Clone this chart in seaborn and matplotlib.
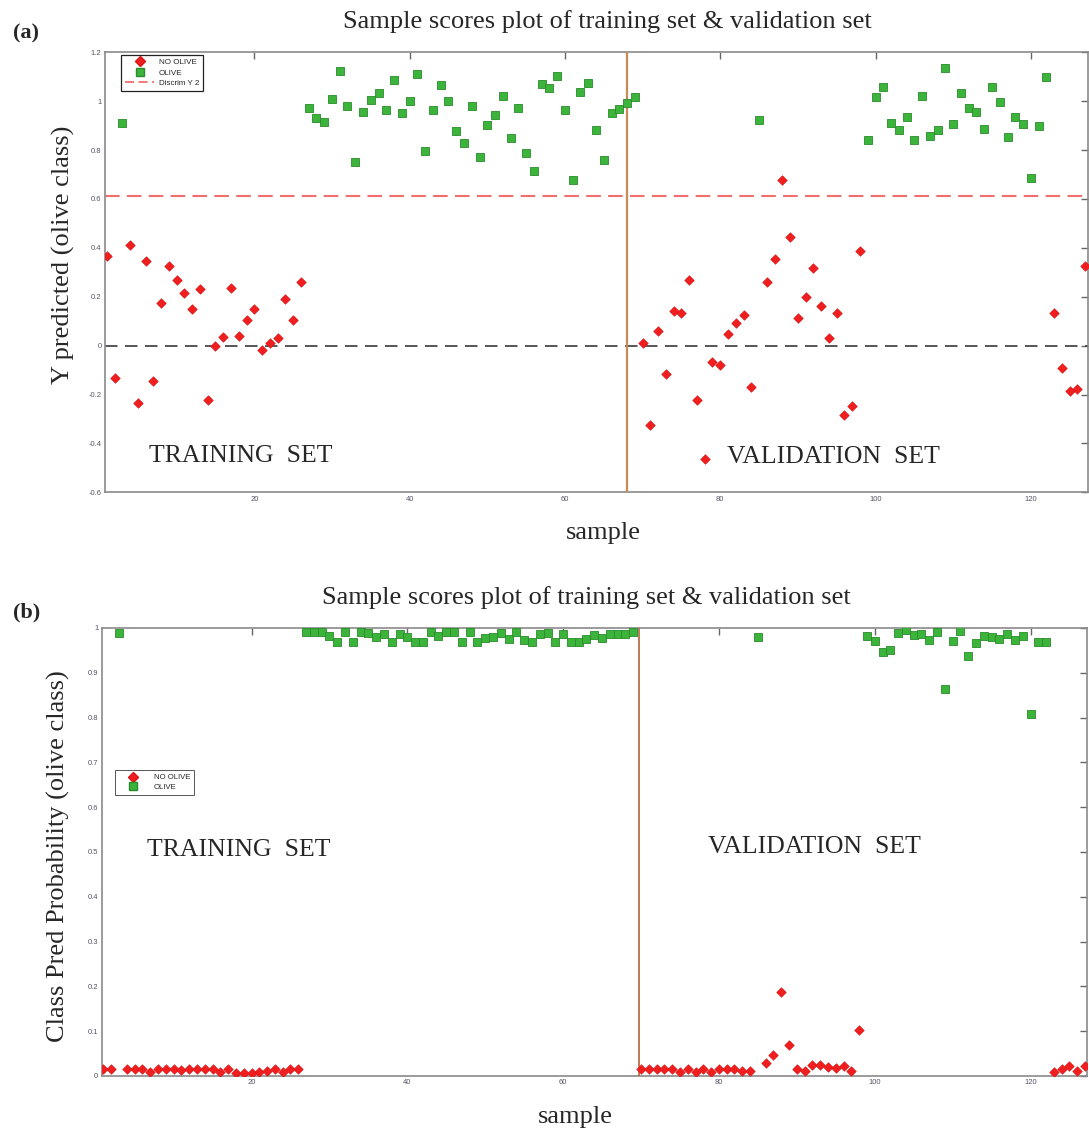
import matplotlib
matplotlib.use("Agg")
import matplotlib.pyplot as plt
from matplotlib.lines import Line2D
from matplotlib.ticker import FuncFormatter, MultipleLocator
import pandas as pd
import seaborn as sns

sns.set_theme(style="white")
plt.rcParams["font.family"] = ["Liberation Serif", "DejaVu Serif"]

# ---------------------------------------------------------------- data
TITLE = "Sample scores plot of training set & validation set"
CLASSES = ["NO OLIVE", "OLIVE"]

no_olive_samples = [1, 2, 4, 5, 6, 7, 8, 9, 10, 11, 12, 13, 14, 15, 16, 17, 18, 19,
                    20, 21, 22, 23, 24, 25, 26,
                    70, 71, 72, 73, 74, 75, 76, 77, 78, 79, 80, 81, 82, 83, 84,
                    86, 87, 88, 89, 90, 91, 92, 93, 94, 95, 96, 97, 98,
                    123, 124, 125, 126, 127]
olive_samples = [3, 27, 28, 29, 30, 31, 32, 33, 34, 35, 36, 37, 38, 39, 40, 41, 42,
                 43, 44, 45, 46, 47, 48, 49, 50, 51, 52, 53, 54, 55, 56, 57, 58, 59,
                 60, 61, 62, 63, 64, 65, 66, 67, 68, 69,
                 85,
                 99, 100, 101, 102, 103, 104, 105, 106, 107, 108, 109, 110, 111, 112,
                 113, 114, 115, 116, 117, 118, 119, 120, 121, 122]

# (a) Y predicted (olive class)
y_pred_no_olive = [0.367, -0.132, 0.412, -0.235, 0.345, -0.146, 0.174, 0.326, 0.267,
                   0.217, 0.151, 0.232, -0.221, 0.000, 0.035, 0.237, 0.038, 0.104,
                   0.150, -0.017, 0.011, 0.030, 0.190, 0.104, 0.262,
                   0.011, -0.323, 0.059, -0.116, 0.143, 0.132, 0.267, -0.224, -0.464,
                   -0.068, -0.079, 0.046, 0.092, 0.125, -0.171,
                   0.262, 0.354, 0.679, 0.443, 0.115, 0.199, 0.316, 0.162, 0.031,
                   0.135, -0.285, -0.247, 0.389,
                   0.132, -0.092, -0.187, -0.176, 0.327]
y_pred_olive = [0.912, 0.974, 0.930, 0.914, 1.007, 1.125, 0.979, 0.751, 0.957, 1.006,
                1.034, 0.962, 1.088, 0.952, 1.002, 1.110, 0.795, 0.962, 1.065, 1.002,
                0.876, 0.828, 0.979, 0.772, 0.903, 0.944, 1.023, 0.850, 0.974, 0.790,
                0.713, 1.070, 1.055, 1.103, 0.963, 0.676, 1.039, 1.075, 0.881, 0.758,
                0.952, 0.968, 0.993, 1.017,
                0.925,
                0.843, 1.016, 1.056, 0.912, 0.881, 0.934, 0.843, 1.020, 0.859, 0.881,
                1.136, 0.907, 1.032, 0.974, 0.957, 0.886, 1.060, 0.997, 0.854, 0.935,
                0.907, 0.686, 0.897, 1.097]
discrim_threshold = 0.612

# (b) class predicted probability (olive class)
prob_no_olive = [0.015, 0.015, 0.015, 0.015, 0.015, 0.009, 0.015, 0.015, 0.015, 0.013,
                 0.015, 0.015, 0.015, 0.015, 0.009, 0.015, 0.007, 0.007, 0.006, 0.009,
                 0.012, 0.015, 0.010, 0.015, 0.015,
                 0.015, 0.016, 0.015, 0.015, 0.015, 0.009, 0.016, 0.010, 0.016, 0.009,
                 0.015, 0.016, 0.016, 0.011, 0.011,
                 0.028, 0.047, 0.187, 0.069, 0.015, 0.012, 0.025, 0.025, 0.019, 0.018,
                 0.023, 0.012, 0.103,
                 0.010, 0.016, 0.022, 0.012, 0.022]
prob_olive = [0.988, 0.990, 0.990, 0.990, 0.982, 0.969, 0.990, 0.969, 0.992, 0.988,
              0.979, 0.986, 0.969, 0.986, 0.979, 0.969, 0.969, 0.990, 0.982, 0.990,
              0.990, 0.969, 0.990, 0.969, 0.978, 0.979, 0.988, 0.975, 0.990, 0.973,
              0.969, 0.986, 0.988, 0.969, 0.986, 0.969, 0.969, 0.975, 0.984, 0.978,
              0.986, 0.986, 0.986, 0.990,
              0.979,
              0.983, 0.972, 0.946, 0.950, 0.988, 0.995, 0.984, 0.987, 0.973, 0.991,
              0.864, 0.971, 0.993, 0.938, 0.967, 0.983, 0.981, 0.975, 0.986, 0.973,
              0.983, 0.809, 0.969, 0.969]

split_a = 68.0      # training / validation boundary, panel (a)
split_b = 69.8      # training / validation boundary, panel (b)

# ---------------------------------------------------------------- style
RED = "#f01e1e"
RED_EDGE = "#d81414"
GREEN = "#3cb43c"
GREEN_EDGE = "#2a8c2a"
SPINE = "#8a8a8a"
TICKLBL = "#555568"
SANS = ["Liberation Sans", "DejaVu Sans"]

W, H = 1089, 1130
fig = plt.figure(figsize=(W / 100, H / 100), dpi=100)


def fx(x):
    return x / W


def fy(y):
    return 1 - y / H


def frame(df_no, df_ol, ax):
    sns.scatterplot(data=df_no, x="sample", y="value", ax=ax, marker="D",
                    color=RED, edgecolor=RED_EDGE, linewidth=0.4, s=24,
                    legend=False, zorder=4)
    sns.scatterplot(data=df_ol, x="sample", y="value", ax=ax, marker="s",
                    color=GREEN, edgecolor=GREEN_EDGE, linewidth=0.6, s=30,
                    legend=False, zorder=4)


def style_axes(ax, xlim, ylim, ystep):
    ax.set_xlim(*xlim)
    ax.set_ylim(*ylim)
    ax.xaxis.set_major_locator(MultipleLocator(20))
    ax.yaxis.set_major_locator(MultipleLocator(ystep))
    fmt = FuncFormatter(lambda v, p: f"{round(v, 3):g}")
    ax.xaxis.set_major_formatter(fmt)
    ax.yaxis.set_major_formatter(fmt)
    ax.tick_params(axis="both", which="major", direction="in", length=5,
                   width=1.0, color="#666666", labelsize=5.5,
                   labelcolor=TICKLBL, pad=2.5, top=True, right=True)
    for lbl in ax.get_xticklabels() + ax.get_yticklabels():
        lbl.set_fontfamily(SANS)
    for sp in ax.spines.values():
        sp.set_color(SPINE)
        sp.set_linewidth(1.2)
    ax.set_xlabel("")
    ax.set_ylabel("")
    ax.grid(False)


# ---------------------------------------------------------------- panel (a)
ax_a = fig.add_axes([fx(105), fy(492.3), 982.5 / W, 440 / H])
df_a_no = pd.DataFrame({"sample": no_olive_samples, "value": y_pred_no_olive,
                        "class": CLASSES[0]})
df_a_ol = pd.DataFrame({"sample": olive_samples, "value": y_pred_olive,
                        "class": CLASSES[1]})
frame(df_a_no, df_a_ol, ax_a)
ax_a.axhline(0, color="#3a3a3a", lw=1.2, ls=(0, (7.5, 4.5)), zorder=2)
ax_a.axhline(discrim_threshold, color="#f06e6e", lw=1.5, ls=(0, (7, 3.5)), zorder=2)
ax_a.axvline(split_a, color="#c98a55", lw=1.6, zorder=3)
style_axes(ax_a, (0.77, 127.3), (-0.6, 1.2), 0.2)

ax_a.text(18.2, -0.452, "TRAINING  SET", fontsize=18.5, ha="center", va="center")
ax_a.text(94.6, -0.457, "VALIDATION  SET", fontsize=18.5, ha="center", va="center")

handles_a = [
    Line2D([], [], marker="D", ls="none", color=RED, markeredgecolor=RED_EDGE,
           markersize=4.6),
    Line2D([], [], marker="s", ls="none", color=GREEN, markeredgecolor=GREEN_EDGE,
           markersize=5.2),
    Line2D([], [], color="#f06e6e", lw=1.3, ls=(0, (5, 2.5))),
]
leg_a = ax_a.legend(handles_a, ["NO OLIVE", "OLIVE", "Discrim Y 2"],
                    loc="upper left", bbox_to_anchor=(0.0165, 0.995),
                    prop={"family": SANS, "size": 5.8}, frameon=True,
                    fancybox=False, edgecolor="#222222", framealpha=1,
                    borderpad=0.5, labelspacing=0.35, handlelength=3.6,
                    handletextpad=0.6, borderaxespad=0)
leg_a.get_frame().set_linewidth(0.9)

# ---------------------------------------------------------------- panel (b)
ax_b = fig.add_axes([fx(101.7), fy(1076), 985.3 / W, 448 / H])
df_b_no = pd.DataFrame({"sample": no_olive_samples, "value": prob_no_olive,
                        "class": CLASSES[0]})
df_b_ol = pd.DataFrame({"sample": olive_samples, "value": prob_olive,
                        "class": CLASSES[1]})
frame(df_b_no, df_b_ol, ax_b)
ax_b.axvline(split_b, color="#b5603a", lw=1.2, zorder=3)
style_axes(ax_b, (0.77, 127.25), (0, 1), 0.1)

ax_b.text(18.3, 0.504, "TRAINING  SET", fontsize=18.5, ha="center", va="center")
ax_b.text(92.3, 0.511, "VALIDATION  SET", fontsize=18.5, ha="center", va="center")

handles_b = handles_a[:2]
leg_b = ax_b.legend(handles_b, CLASSES, loc="upper left",
                    bbox_to_anchor=(0.0135, 0.683),
                    prop={"family": SANS, "size": 5.6}, frameon=True,
                    fancybox=False, edgecolor="#555555", framealpha=1,
                    borderpad=0.5, labelspacing=0.3, handlelength=3.6,
                    handletextpad=0.9, borderaxespad=0)
leg_b.get_frame().set_linewidth(0.7)

# ---------------------------------------------------------------- labels
fig.text(fx(26), fy(33), "(a)", fontsize=16, fontweight="bold", ha="center", va="center")
fig.text(fx(27), fy(612), "(b)", fontsize=16, fontweight="bold", ha="center", va="center")
fig.text(fx(607), fy(22), TITLE, fontsize=19, ha="center", va="center")
fig.text(fx(586), fy(598), TITLE, fontsize=19, ha="center", va="center")
fig.text(fx(63), fy(255), "Y predicted (olive class)", fontsize=19,
         rotation=90, ha="center", va="center")
fig.text(fx(58), fy(856), "Class Pred Probability (olive class)", fontsize=19,
         rotation=90, ha="center", va="center")
fig.text(fx(603), fy(533), "sample", fontsize=19, ha="center", va="center")
fig.text(fx(575), fy(1117), "sample", fontsize=19, ha="center", va="center")

fig.savefig("out.png", dpi=100, facecolor="white")
